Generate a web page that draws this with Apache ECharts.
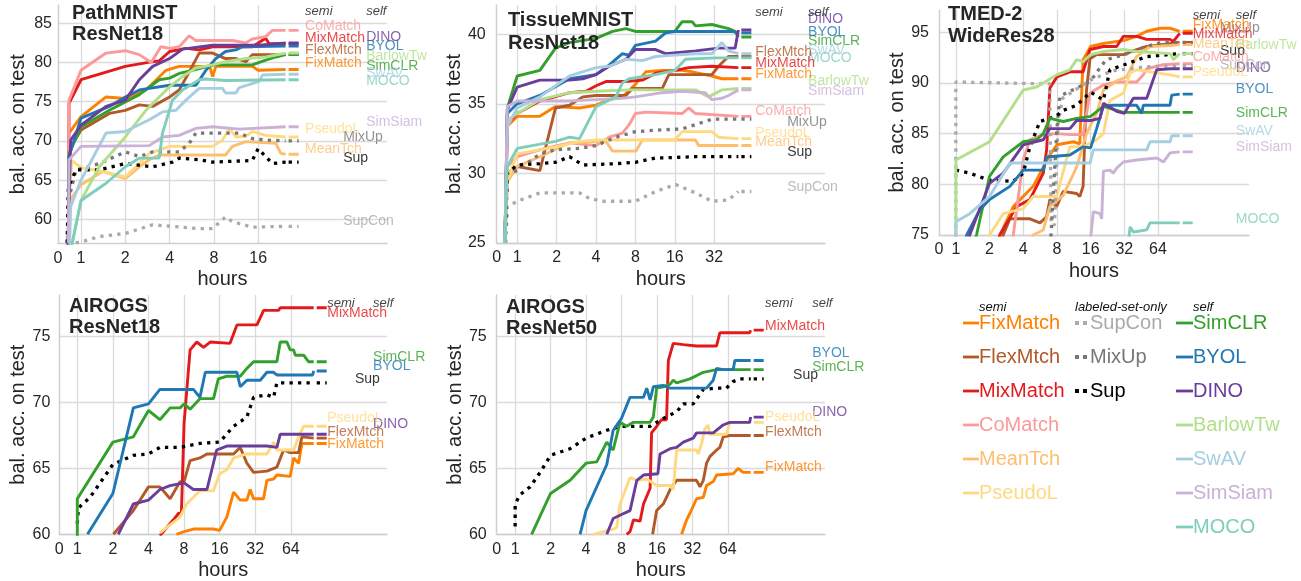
<!DOCTYPE html>
<html lang="en">
<head>
<meta charset="UTF-8">
<title>bal. acc. vs hours</title>
<script src="https://cdn.jsdelivr.net/npm/echarts@6/dist/echarts.min.js"></script>
<style>
  html, body { margin: 0; padding: 0; background: #fff; }
  #main { width: 1301px; height: 581px; }
</style>
</head>
<body>
<div id="main"></div>
<script>
// hour ticks under the panels
const HOUR_TICKS = [0, 1, 2, 4, 8, 16, 32, 64];

// ---- PathMNIST / ResNet18  [hours, bal. acc.] ----
const path_FixMatch = [[0.48,71],[1,73.1],[1.48,75.6],[2,75.4],[2.76,76.5],[3.78,79.0],[4.65,79.5],[7.5,79.5],[7.84,78.2],[8.25,79.5],[14.6,79.5],[16,79.0],[24.6,79.1]];
const path_FlexMtch = [[0.48,68.8],[1,71.4],[1.56,73.5],[2,73.9],[2.49,74.6],[3.07,74.4],[4,75.6],[4.65,76.5],[5.44,78.8],[6.36,81.2],[7.84,81.2],[9.6,80.5],[11.3,80.5],[13.2,80.1],[14.6,81.0],[24.6,81.0]];
const path_MixMatch = [[0.45,57],[0.48,74.8],[1,77.8],[2,79.5],[3.07,80.1],[3.4,80.2],[4,81.4],[5.16,81.8],[6.36,81.6],[7.84,82.0],[14.6,82.0],[18,83.1],[19,82.4],[24.6,82.4]];
const path_CoMatch = [[0.45,57],[0.48,75.2],[1,79.0],[1.48,81.2],[2,81.5],[2.49,81.0],[3.0,80.0],[3.49,82.0],[4,81.8],[4.65,82.0],[5.44,83.4],[6.04,82.8],[10.7,82.8],[13.2,82.5],[14.6,83.0],[18,83.3],[20,84.1],[24.6,84.1]];
const path_MeanTch = [[0.5,62.4],[1,64.4],[1.4,66.1],[2,65.2],[2.49,66.7],[2.91,67.6],[3.4,68.2],[9.6,68.2],[10.7,69.3],[13.2,69.9],[21.1,69.7],[22.8,68.4],[24.6,68.3]];
const path_PseudoL = [[0.48,62],[0.6,67.5],[1,66.6],[1.4,66.1],[2,65.4],[2.91,68.4],[4,69.3],[7.84,69.3],[9.16,70.1],[10.2,71.6],[11.3,70.5],[13.2,70.6],[14.6,71.2],[18,70.7],[24.6,70.5]];
const path_SupCon = [[0.4,56.9],[1,57.1],[1.33,57.8],[2,58.2],[3.07,59.3],[6.36,58.8],[7.84,58.8],[9.6,60.3],[10.7,59.7],[14.6,59.0],[24.6,59.1]];
const path_MixUp = [[0.4,57],[0.45,62.4],[0.78,66.3],[1.33,67.1],[2,68.6],[2.49,68.0],[3.07,68.6],[4.65,68.6],[5.44,69.7],[6.04,71.0],[11.9,71.0],[14.6,70.3],[18,70.1],[24.6,70.0]];
const path_Sup = [[0.4,57],[0.45,64.1],[0.78,66.3],[1.33,66.3],[2,67.1],[3.07,66.7],[4.19,67.3],[4.65,67.8],[6.36,67.6],[7.84,67.3],[14.6,67.5],[16,69.0],[18,68.0],[20,67.1],[24.6,67.3]];
const path_SimCLR = [[0.45,57],[0.48,68.4],[1,71.8],[1.56,73.9],[2.49,75.9],[3.4,77.8],[4,78.0],[4.65,78.6],[5.73,79.0],[8,79.7],[14.6,79.7],[18,80.3],[21.1,80.7],[24.6,81.0]];
const path_BYOL = [[0.45,57],[0.48,68],[1,72.9],[1.56,74.4],[2,75.6],[2.49,76.5],[4,77.1],[6.04,77.1],[7.06,79.0],[8.25,80.5],[9.6,81.4],[11.3,81.6],[12.5,82.0],[24.6,82.1]];
const path_DINO = [[0.42,56],[0.55,70.1],[1,72.0],[1.48,74.4],[2,75.2],[2.49,77.8],[3.07,79.5],[4,80.5],[4.9,81.7],[7.84,82.2],[16.3,82.2],[24.6,82.5]];
const path_BarlowTw = [[0.55,56],[1,62.4],[1.33,66.7],[2,70.5],[2.76,73.9],[4,76.9],[4.9,78.2],[6.04,79.3],[7.84,79.7],[9.6,80.1],[13.2,80.5],[18,80.7],[24.6,81.2]];
const path_SwAV = [[0.5,56],[0.55,61.6],[1,65],[1.48,71],[2,71.2],[2.91,72.7],[3.58,73.7],[4.42,73.9],[5.16,75.2],[6.36,76.7],[9.16,76.7],[9.6,76.1],[11.3,76.1],[11.9,76.8],[16.3,77.6],[17.1,78.4],[24.6,78.5]];
const path_SimSiam = [[0.45,57],[0.48,67.6],[1,69.3],[2.91,69.4],[3.58,70.5],[4.65,70.7],[6.04,71.6],[7.84,71.8],[11.9,71.5],[24.6,71.8]];
const path_MOCO = [[0.55,56],[1,62.4],[1.48,64.6],[2,66.7],[2.49,67.8],[3.4,67.8],[3.58,71],[4.19,75.2],[4.9,76.5],[6.36,77.8],[7.06,77.9],[9.6,77.7],[24.6,77.8]];

// ---- TissueMNIST / ResNet18 ----
const tis_FixMatch = [[0.4,25],[0.52,33.4],[1,34.1],[1.49,34.1],[1.96,34.8],[2.99,34.7],[4,34.9],[5.05,35.3],[6.37,35.5],[8,36.4],[9.6,37.3],[12.8,37.4],[18.2,37.4],[21.7,37.3],[30.7,37.0],[36.6,36.8],[48.9,36.8]];
const tis_FlexMtch = [[0.4,25],[0.52,30.0],[1,30.5],[1.49,30.2],[1.96,34.7],[2.51,34.9],[3.17,35.5],[4,35.6],[6.76,35.6],[7.59,36.1],[12.8,36.1],[14.4,37.1],[30.7,37.1],[34.5,37.7],[41.1,38.4],[48.9,38.4]];
const tis_MixMatch = [[0.4,25],[0.52,33.6],[1,34.3],[1.49,35.2],[2.51,35.8],[3.36,35.9],[4,36.3],[4.76,36.6],[6.76,36.6],[9.04,36.7],[11.4,37.2],[16.2,37.4],[20.4,37.6],[30.7,37.7],[48.9,37.6]];
const tis_CoMatch = [[0.4,25],[0.52,30.5],[1,31.2],[1.49,31.7],[2.51,32.2],[4,32.0],[5.05,32.6],[6.37,32.9],[7.16,33.5],[8,34.3],[9.6,34.4],[18.2,34.3],[20.4,34.7],[23,34.3],[48.9,34.1]];
const tis_MeanTch = [[0.4,25],[0.52,29.4],[1,30.5],[1.49,31.2],[2.51,32.2],[4.76,32.3],[5.35,31.6],[8.05,31.6],[9.04,32.4],[23,32.4],[24.3,32.0],[48.9,32.0]];
const tis_PseudoL = [[0.4,25],[0.52,29.5],[1,31.4],[1.96,31.9],[2.99,32.3],[4,32.4],[16,32.4],[18.2,33.0],[30.7,33.0],[34.5,32.6],[48.9,32.5]];
const tis_SupCon = [[0.45,25],[0.52,27.6],[1,28.0],[1.49,28.6],[2.99,28.6],[3.56,28.2],[4.49,28.0],[8,28.0],[11.4,28.7],[16.2,29.2],[23,28.6],[30.7,28.0],[41.1,28.1],[48.9,28.7]];
const tis_MixUp = [[0.4,25],[0.52,30],[1,30.2],[1.49,31.4],[1.96,31.7],[2.99,31.8],[4,32.0],[5.67,32.6],[8,33.0],[11.4,33.1],[18.2,33.2],[23,33.5],[30.7,33.9],[48.9,33.9]];
const tis_Sup = [[0.4,25],[0.52,30],[1,30.6],[1.49,30.7],[1.96,30.8],[2.51,31.2],[3.17,30.6],[5.67,30.7],[8,30.8],[11.4,31.1],[23,31.2],[48.9,31.2]];
const tis_SimCLR = [[0.4,25],[0.52,34.7],[1,37.0],[1.49,37.4],[1.96,39.0],[2.51,39.4],[4,39.7],[5.35,40.2],[6.76,40.4],[8,40.2],[16,40.2],[18.2,40.9],[21.7,40.9],[23,40.6],[30.7,40.7],[41.1,40.4],[46.2,40.2],[48.9,39.8]];
const tis_BYOL = [[0.4,25],[0.52,34.3],[1,35.0],[1.49,35.6],[2.51,36.8],[4,37.1],[5.05,37.8],[6.37,38.6],[7.16,38.5],[8,39.2],[11.4,39.5],[13.6,40.1],[16,40.2],[43.6,40.2],[48.9,40.1]];
const tis_DINO = [[0.4,25],[0.52,34.6],[1,36.2],[1.49,36.7],[2.51,36.7],[3.17,36.8],[4,37.1],[5.05,37.7],[6.76,38.2],[8,38.9],[11.4,38.9],[13.6,38.6],[23,38.8],[34.5,39.0],[46.2,39.0],[48.9,40.3]];
const tis_BarlowTw = [[0.4,25],[0.52,33.8],[1,34.3],[1.49,35.3],[2.51,35.8],[4,35.9],[7.16,36.0],[23,36.0],[29,35.5],[36.6,36.0],[48.9,36.1]];
const tis_SwAV = [[0.4,25],[0.52,33.4],[1,34.7],[1.49,35.5],[2.51,37.0],[4,37.6],[5.05,37.7],[6.76,38.2],[9.04,38.1],[11.4,38.4],[16,38.5],[23,38.6],[30.7,38.6],[36.6,39.4],[41.1,38.8],[48.9,38.6]];
const tis_SimSiam = [[0.4,25],[0.52,34.8],[1,35.2],[2.51,35.2],[4,35.3],[6.37,35.4],[8,35.5],[12.8,35.8],[18.2,35.9],[27.3,35.8],[30.7,35.3],[36.6,35.4],[41.1,35.6],[48.9,36.0]];
const tis_MOCO = [[0.4,25],[0.52,30.5],[1,31.8],[1.96,32.3],[2.51,32.6],[2.99,32.5],[4,34.8],[5.67,35.5],[6.37,36.5],[7.16,36.8],[11.4,37.1],[16,37.4],[19.3,38.2],[32.6,38.3],[48.9,38.3]];

// ---- TMED-2 / WideRes28 ----
const tmed_FixMatch = [[2.3,74],[2.47,75],[3.26,77.8],[4.91,79.8],[6.04,81.7],[6.92,82.9],[8,83.9],[11.2,84.2],[12.8,84.0],[13.3,89],[13.7,92.3],[16,93.6],[20.8,93.9],[32,94.2],[41.2,94.6],[50.7,95.1],[66.7,95.4],[82,95.4],[100,95.1]];
const tmed_FlexMtch = [[2.5,74],[2.65,75],[3.04,76.6],[4.59,76.6],[5.64,76.2],[6.47,76.8],[6.92,78.5],[7.94,77.8],[9.11,79.3],[12,79.1],[12.8,78.8],[13.7,79.8],[14.7,89.3],[15.8,92.4],[18.1,92.8],[31.4,92.8],[41.2,93.3],[50.7,93.6],[100,94.0]];
const tmed_MixMatch = [[2.3,74],[2.47,75],[3.49,77.8],[4.59,78.5],[6.04,81.1],[6.47,83.4],[6.92,89.5],[8,90.6],[10.45,91.1],[13.7,91.1],[15.8,93.3],[20.8,93.6],[27.3,93.6],[31.4,94.6],[41.2,94.6],[50.7,94.3],[82,94.3],[87.7,94.1],[100,94.9]];
const tmed_CoMatch = [[3.2,74],[3.26,75],[4,82.4],[4.59,84.4],[6.04,84.9],[7.94,85.0],[10.45,84.9],[13.7,84.9],[15.8,89.0],[20.8,89.8],[27.3,90.1],[41.2,90.1],[47.3,90.8],[50.7,91.4],[71.4,91.8],[100,91.9]];
const tmed_MeanTch = [[4.7,74],[4.91,75],[6.04,75.5],[6.92,77.8],[9.11,78.9],[12,81.7],[14.7,85.0],[18.1,87.0],[20.8,89.3],[27.3,90.2],[33.6,90.6],[41.2,92.6],[54.3,93.6],[82,93.7],[100,93.8]];
const tmed_PseudoL = [[1.9,74],[2,75],[2.65,77.1],[4,77.6],[4.91,78.8],[7.94,78.8],[10.45,83.7],[13.7,83.7],[18.1,84.4],[20.8,85.0],[23.8,88.3],[31.4,89.0],[36,91.0],[41.2,91.3],[62.3,91.0],[82,90.8],[100,90.6]];
const tmed_SupCon = [[1,74],[1,90.1],[6.9,89.9],[7.1,76],[7.6,76],[8.2,86],[9,88.5],[16,90.3],[25,91.2],[50,91.6],[100,91.7]];
const tmed_MixUp = [[7,74],[7.5,80],[8,85.5],[8.5,88.7],[12,89.5],[16,90.2],[18,91],[22,92.3],[32,92.8],[50,93.6],[70,94.0],[100,94.0]];
const tmed_Sup = [[1,81.4],[1.33,81.1],[2,80.4],[3.26,80.3],[4,81.1],[4.59,83.7],[5.64,86.2],[6.92,86.5],[8,86.8],[9.11,87.3],[12,87.8],[16,89.1],[20.8,88.3],[23.8,91.3],[32,91.8],[50.7,92.6],[100,92.9]];
const tmed_SimCLR = [[1.45,74],[1.53,75],[2,80.8],[2.65,82.7],[4,84.2],[5.26,84.4],[6.04,85.0],[6.92,86.5],[9.11,86.2],[12,86.5],[16,86.7],[20.8,87.7],[31.4,87.1],[100,87.1]];
const tmed_BYOL = [[1.2,74],[1.25,75],[1.64,77.5],[2,78.5],[3.04,79.8],[4,81.4],[6.04,81.4],[6.47,82.7],[10.45,82.9],[13.7,83.7],[16,83.6],[18.1,85.5],[20.8,87.7],[25.5,87.8],[41.2,87.8],[45.7,87.0],[47.3,87.8],[82,87.8],[84.8,88.8],[100,88.9]];
const tmed_DINO = [[1.28,74],[1.33,75],[2,80.1],[2.65,81.1],[4,83.9],[6.04,84.4],[6.92,85.5],[10.45,85.5],[12,86.3],[16,86.3],[19.4,86.5],[20.8,88.0],[27.3,87.2],[32,87.0],[38.5,88.5],[50.7,88.5],[62.3,91.3],[82,91.4],[100,91.4]];
const tmed_BarlowTw = [[1,74],[1,82.4],[2,84.2],[4,89.3],[5.26,89.6],[7.94,90.8],[10.45,91.3],[12,92.3],[13.7,92.1],[16,92.8],[20.8,93.1],[31.4,93.3],[41.2,93.1],[82,92.9],[87.7,92.3],[100,92.9]];
const tmed_SwAV = [[1,74],[1,76.3],[1.33,77.1],[2,78.8],[3.04,82.1],[15.8,82.1],[16.9,83.4],[50.7,83.4],[54.3,84.2],[82,84.2],[84.8,84.8],[100,84.8]];
const tmed_SimSiam = [[15.8,74],[16.9,77.3],[19.4,77.1],[20.1,76.6],[20.8,81.3],[23.8,81.4],[25.5,81.1],[27.3,81.6],[31.4,82.2],[41.2,82.4],[62.3,82.6],[71.4,82.2],[82,83.1],[100,83.2]];
const tmed_MOCO = [[34.7,74],[36,75.8],[38.5,75.3],[50.7,75.5],[54.3,76.2],[100,76.2]];

// ---- AIROGS / ResNet18 ----
const a18_FixMatch = [[6.9,60],[8,60.2],[9.6,60.4],[14.2,60.4],[16,60.3],[18.4,61.3],[21,63.2],[23.9,62.6],[27.2,62.6],[29,63.4],[31,62.7],[37.6,62.7],[40.2,64.1],[45.8,64.2],[48.8,64.5],[63.3,64.4],[67.6,65.8],[74.5,65.4],[79.5,66.9],[100,66.9]];
const a18_FlexMtch = [[2.02,60],[2.98,61.8],[4,63.6],[5,63.6],[6.1,62.7],[7.4,64.0],[8,64.0],[9,65.6],[10.9,65.8],[12.5,66.1],[21,66.1],[23.9,66.6],[27.2,65.4],[31,64.7],[40.2,64.8],[48.8,65.1],[55.6,66.4],[63.3,66.2],[74.5,66.2],[79.5,67.4],[100,67.3]];
const a18_MixMatch = [[5,59.9],[6.5,61.1],[7.2,61.6],[7.6,61.6],[8,68.4],[9,74.0],[10.25,74.6],[11.7,74.2],[13.3,74.6],[19.6,74.5],[22.4,75.9],[33.1,75.9],[37.7,77.0],[50.4,77.0],[52.1,77.2],[100,77.2]];
const a18_PseudoL = [[5,60.1],[7.4,61.3],[8.4,62.3],[10.9,63.3],[14.2,63.3],[16,64.6],[18.4,64.9],[21,65.8],[27.2,66.1],[40.2,66.1],[45.8,67.0],[48.8,66.4],[67.6,66.4],[77,67.7],[82.2,68.2],[100,68.2]];
const a18_Sup = [[1,60.8],[1.02,62],[1.28,62.8],[2,65.3],[2.98,66.0],[4,66.1],[5,66.6],[7.4,66.6],[10.9,66.9],[16,67.0],[21,68.2],[27.2,68.9],[31,70.4],[40.2,70.6],[45.8,70.4],[48.8,71.5],[100,71.5]];
const a18_SimCLR = [[1,59.8],[1,62.7],[2,67.0],[2.98,67.4],[4,69.4],[5,68.7],[6.1,69.6],[7.4,69.6],[8,69.9],[9,69.5],[10.9,70.3],[14.2,70.3],[15.6,71.8],[18.4,72.0],[23.9,72.0],[27.2,72.6],[31,73.1],[48.8,73.1],[52.1,74.6],[59.3,74.6],[63.3,74.0],[67.6,74.0],[69.8,73.6],[82.2,73.6],[90.6,73.1],[100,73.1]];
const a18_BYOL = [[1.22,60],[2,63.1],[2.98,69.6],[4,69.9],[5,71.0],[9.6,71.0],[10.9,70.4],[12.1,72.3],[22.4,72.3],[23.9,71.2],[27.2,71.7],[35.3,71.7],[40.2,72.3],[45.8,72.3],[48.8,72.1],[98,72.1],[100,72.4]];
const a18_DINO = [[2.22,60],[2.98,62.3],[4,62.6],[5,63.4],[6.1,63.7],[8,63.9],[9.6,63.4],[12.5,63.4],[15.1,66.4],[18.4,66.7],[40.2,66.7],[48.8,66.6],[52.1,67.6],[100,67.6]];

// ---- AIROGS / ResNet50 ----
const a50_FixMatch = [[25.9,60],[28.6,61.1],[30.5,61.6],[34.7,62.7],[39.6,62.8],[42.2,63.7],[48.1,64.0],[51.3,64.5],[71,64.6],[78.3,65.0],[86.3,64.7],[100,64.7]];
const a50_FlexMtch = [[14.7,60],[15.9,61.8],[18.1,62.3],[20.7,63.4],[23.5,64.1],[34.7,64.1],[37.1,63.6],[39.6,64.1],[42.2,65.4],[45,65.9],[51.3,66.4],[54.7,66.6],[58.4,67.4],[66.5,67.5],[100,67.5]];
const a50_MixMatch = [[8.85,60],[9.45,60.2],[10.1,61.1],[11.5,61.0],[12.3,62.3],[14,63.5],[14.4,67.7],[15.9,68.2],[17.5,68.7],[19.3,68.7],[20,73.2],[22,74.5],[26.8,74.4],[34.7,74.3],[51.3,74.3],[54.7,75.3],[98,75.3],[100,75.5]];
const a50_PseudoL = [[4.62,60],[6.8,60.4],[7.28,60.5],[7.77,62.3],[9.45,64.3],[10.8,64.1],[13.1,64.2],[15.9,63.7],[20.7,63.7],[22,63.4],[23.5,66.4],[34.7,66.4],[35.9,66.1],[38.3,66.9],[40.8,68.0],[43.6,68.3],[45,67.6],[62.3,67.6],[66.5,68.5],[100,68.5]];
const a50_Sup = [[1,60.6],[1,62.3],[1.1,63.0],[1.34,63.6],[1.63,64.7],[2,66.0],[2.93,66.5],[4,67.3],[6,67.9],[8,68.2],[14,68.2],[18.1,68.8],[23.5,69.3],[26.8,69.9],[32.5,69.9],[39.6,71.0],[51.3,71.1],[62.3,71.1],[71,71.6],[80.9,71.8],[100,71.8]];
const a50_SimCLR = [[1.38,60],[2,63.1],[2.93,64.1],[4,65.4],[4.93,65.5],[6,67.0],[6.8,66.4],[7.77,68.5],[8.85,68.2],[10.1,68.5],[14,68.5],[14.9,68.9],[15.9,71.1],[18.1,71.2],[20.7,71.4],[22,71.7],[23.5,71.5],[30.5,71.8],[39.6,72.3],[51.3,72.5],[100,72.5]];
const a50_BYOL = [[3.56,60],[4,61.8],[6,65.3],[6.8,67.9],[8,68.8],[9.45,70.4],[12.3,70.4],[13.1,71.1],[14,70.2],[14.9,71.2],[18.1,71.3],[20.7,71.1],[42.2,71.1],[48.1,71.7],[51.3,72.6],[58.4,72.5],[71,72.5],[73.4,73.2],[100,73.2]];
const a50_DINO = [[6,60],[6.8,61.2],[8,61.5],[9.45,61.8],[10.8,64.1],[12.3,64.5],[16.3,64.6],[17,66.1],[20.7,66.5],[23.5,66.6],[26.8,67.0],[32.5,67.3],[34.7,67.7],[48.1,67.7],[58.4,68.3],[66.5,68.5],[98,68.5],[100,68.9]];

// method groups and colours
const SEMI = ['FixMatch', 'FlexMtch', 'MixMatch', 'CoMatch', 'MeanTch', 'PseudoL'];
const LABELED = ['SupCon', 'MixUp', 'Sup'];
const SELF = ['SimCLR', 'BYOL', 'DINO', 'BarlowTw', 'SwAV', 'SimSiam', 'MOCO'];
const COLORS = {
  FixMatch: '#ff7f00', FlexMtch: '#b15928', MixMatch: '#e31a1c', CoMatch: '#fb9a99',
  MeanTch: '#fdbf6f', PseudoL: '#ffd97f',
  SupCon: '#aaaaaa', MixUp: '#777777', Sup: '#000000',
  SimCLR: '#33a02c', BYOL: '#1f78b4', DINO: '#6a3d9a', BarlowTw: '#b2df8a',
  SwAV: '#a6cee3', SimSiam: '#cab2d6', MOCO: '#7fcdbb'
};
const GROUP = {};
SEMI.forEach(n => GROUP[n] = 'semi');
LABELED.forEach(n => GROUP[n] = 'labeled');
SELF.forEach(n => GROUP[n] = 'self');

const FONT = '"Liberation Sans", Arial, Helvetica, sans-serif';
const INK = '#262626';
const GRID_COLOR = '#dadada';
const AXIS_COLOR = '#cfcfcf';

const panels = [
  {
    title: 'PathMNIST\nResNet18', titleAt: [72, 3], titleLH: 21,
    box: [58, 5, 329, 238.3], lin: 0.52, xMax: 7.43, yMin: 56.94, yMax: 87.33,
    nx: 6, yTicks: [60, 65, 70, 75, 80, 85], yMargin: 6,
    cols: {semi: 5.58, labeled: 6.44, self: 6.96}, headY: 86.5,
    curves: {FixMatch: path_FixMatch, FlexMtch: path_FlexMtch, MixMatch: path_MixMatch, CoMatch: path_CoMatch,
      MeanTch: path_MeanTch, PseudoL: path_PseudoL, SupCon: path_SupCon, MixUp: path_MixUp, Sup: path_Sup,
      SimCLR: path_SimCLR, BYOL: path_BYOL, DINO: path_DINO, BarlowTw: path_BarlowTw, SwAV: path_SwAV,
      SimSiam: path_SimSiam, MOCO: path_MOCO},
    labelY: {FixMatch: 79.9, FlexMtch: 81.59, MixMatch: 83.09, CoMatch: 84.66, MeanTch: 68.97, PseudoL: 71.52,
      SupCon: 59.78, MixUp: 70.54, Sup: 67.78, SimCLR: 79.55, BYOL: 82.1, DINO: 83.21, BarlowTw: 80.83,
      SwAV: 78.7, SimSiam: 72.37, MOCO: 77.64}
  },
  {
    title: 'TissueMNIST\nResNet18', titleAt: [508, 8.5], titleLH: 23,
    box: [496.7, 5, 328.3, 238], lin: 0.52, xMax: 8.33, yMin: 25, yMax: 42.1,
    nx: 7, yTicks: [25, 30, 35, 40], yMargin: 11,
    cols: {semi: 6.56, labeled: 7.37, self: 7.9}, headY: 41.6,
    curves: {FixMatch: tis_FixMatch, FlexMtch: tis_FlexMtch, MixMatch: tis_MixMatch, CoMatch: tis_CoMatch,
      MeanTch: tis_MeanTch, PseudoL: tis_PseudoL, SupCon: tis_SupCon, MixUp: tis_MixUp, Sup: tis_Sup,
      SimCLR: tis_SimCLR, BYOL: tis_BYOL, DINO: tis_DINO, BarlowTw: tis_BarlowTw, SwAV: tis_SwAV,
      SimSiam: tis_SimSiam, MOCO: tis_MOCO},
    labelY: {FixMatch: 37.15, FlexMtch: 38.73, MixMatch: 37.94, CoMatch: 34.49, MeanTch: 32.26, PseudoL: 32.9,
      SupCon: 29.02, MixUp: 33.7, Sup: 31.54, SimCLR: 39.52, BYOL: 40.17, DINO: 41.1, BarlowTw: 36.64,
      SwAV: 38.87, SimSiam: 35.92, MOCO: 38.3}
  },
  {
    title: 'TMED-2\nWideRes28', titleAt: [948, 4], titleLH: 21.7,
    box: [939, 10, 310, 225], lin: 0.5, xMax: 9.2, yMin: 75, yMax: 97.2,
    nx: 8, yTicks: [75, 80, 85, 90, 95], yMargin: 10,
    cols: {semi: 7.53, labeled: 8.34, self: 8.81}, headY: 96.7,
    curves: {FixMatch: tmed_FixMatch, FlexMtch: tmed_FlexMtch, MixMatch: tmed_MixMatch, CoMatch: tmed_CoMatch,
      MeanTch: tmed_MeanTch, PseudoL: tmed_PseudoL, SupCon: tmed_SupCon, MixUp: tmed_MixUp, Sup: tmed_Sup,
      SimCLR: tmed_SimCLR, BYOL: tmed_BYOL, DINO: tmed_DINO, BarlowTw: tmed_BarlowTw, SwAV: tmed_SwAV,
      SimSiam: tmed_SimSiam, MOCO: tmed_MOCO},
    labelY: {FixMatch: 95.72, MixMatch: 94.83, CoMatch: 92.56, MeanTch: 93.85, PseudoL: 91.08,
      SupCon: 91.77, MixUp: 95.42, Sup: 93.15, SimCLR: 87.03, BYOL: 89.4, DINO: 91.48, BarlowTw: 93.75,
      SwAV: 85.26, SimSiam: 83.68, MOCO: 76.57}
  },
  {
    title: 'AIROGS\nResNet18', titleAt: [69, 295.5], titleLH: 21,
    box: [59.3, 295, 327.7, 239.3], lin: 0.506, xMax: 9.21, yMin: 60, yMax: 78.17,
    nx: 8, yTicks: [60, 65, 70, 75], yMargin: 9,
    cols: {semi: 7.53, labeled: 8.31, self: 8.82}, headY: 77.5,
    curves: {FixMatch: a18_FixMatch, FlexMtch: a18_FlexMtch, MixMatch: a18_MixMatch, PseudoL: a18_PseudoL,
      Sup: a18_Sup, SimCLR: a18_SimCLR, BYOL: a18_BYOL, DINO: a18_DINO},
    labelY: {MixMatch: 76.8, SimCLR: 73.47, BYOL: 72.78, Sup: 71.79, PseudoL: 68.83, DINO: 68.33,
      FlexMtch: 67.72, FixMatch: 66.85}
  },
  {
    title: 'AIROGS\nResNet50', titleAt: [506, 296.5], titleLH: 21,
    box: [496.7, 295, 328.3, 239.3], lin: 0.52, xMax: 9.26, yMin: 60, yMax: 78.17,
    nx: 8, yTicks: [60, 65, 70, 75], yMargin: 10,
    cols: {semi: 7.57, labeled: 8.36, self: 8.9}, headY: 77.5,
    curves: {FixMatch: a50_FixMatch, FlexMtch: a50_FlexMtch, MixMatch: a50_MixMatch, PseudoL: a50_PseudoL,
      Sup: a50_Sup, SimCLR: a50_SimCLR, BYOL: a50_BYOL, DINO: a50_DINO},
    labelY: {MixMatch: 75.81, BYOL: 73.76, SimCLR: 72.7, Sup: 72.09, DINO: 69.28, PseudoL: 68.9,
      FlexMtch: 67.76, FixMatch: 65.1}
  }
];

// symlog-like hours axis: linear below 1h, log2 above
function toAxis(h, lin) { return h < 1 ? h * lin : lin + Math.log2(h); }

function lineStyleOf(name) {
  if (GROUP[name] === 'labeled') {
    return {color: COLORS[name], width: 3.3, type: [3.3, 5.2], cap: 'butt'};
  }
  return {color: COLORS[name], width: 2.9};
}

const grids = [], xAxes = [], yAxes = [], series = [], graphic = [];

panels.forEach((p, i) => {
  const [left, top, width, height] = p.box;
  const ppu = width / p.xMax;
  grids.push({left, top, width, height, containLabel: false, outerBoundsMode: 'none'});

  const xt = HOUR_TICKS.slice(0, p.nx).map(h => toAxis(h, p.lin));
  xAxes.push({
    type: 'value', gridIndex: i, min: 0, max: p.xMax,
    name: 'hours', nameLocation: 'middle', nameGap: 26,
    nameTextStyle: {fontSize: 20, color: INK, fontFamily: FONT},
    axisLine: {show: true, lineStyle: {color: AXIS_COLOR, width: 1.3}},
    axisTick: {show: false, customValues: xt},
    axisLabel: {
      customValues: xt, fontSize: 16, color: INK, fontFamily: FONT, margin: 7,
      formatter: v => (v < p.lin * 0.5 ? '0' : String(Math.round(Math.pow(2, v - p.lin))))
    },
    splitLine: {show: true, lineStyle: {color: GRID_COLOR, width: 1.3}}
  });
  yAxes.push({
    type: 'value', gridIndex: i, min: p.yMin, max: p.yMax,
    name: 'bal. acc. on test', nameLocation: 'middle', nameGap: 30,
    nameTextStyle: {fontSize: 20, color: INK, fontFamily: FONT},
    axisLine: {show: true, lineStyle: {color: AXIS_COLOR, width: 1.3}},
    axisTick: {show: false, customValues: p.yTicks},
    axisLabel: {customValues: p.yTicks, fontSize: 16, color: INK, fontFamily: FONT, margin: p.yMargin},
    splitLine: {show: true, lineStyle: {color: GRID_COLOR, width: 1.3}}
  });

  // curves and the short end marks
  [...SEMI, ...LABELED, ...SELF].forEach(name => {
    const pts = p.curves[name];
    if (!pts) return;
    const style = lineStyleOf(name);
    series.push({
      type: 'line', name, xAxisIndex: i, yAxisIndex: i,
      data: pts.map(([h, v]) => [toAxis(h, p.lin), v]),
      showSymbol: false, symbol: 'none', lineStyle: style,
      itemStyle: {color: COLORS[name]}, silent: true, animation: false, z: 2
    });
    const last = pts[pts.length - 1];
    const xs = toAxis(last[0], p.lin) + 3 / ppu;
    series.push({
      type: 'line', xAxisIndex: i, yAxisIndex: i,
      data: [[xs, last[1]], [xs + 10 / ppu, last[1]]],
      showSymbol: false, symbol: 'none', lineStyle: style,
      silent: true, animation: false, z: 2
    });
  });

  // right-hand name labels + column headers
  const labelData = [];
  [...SELF, ...LABELED, ...SEMI].forEach(name => {
    if (p.labelY[name] === undefined) return;
    labelData.push({name, value: [p.cols[GROUP[name]], p.labelY[name]], label: {color: COLORS[name]}});
  });
  ['semi', 'self'].forEach(h => {
    labelData.push({name: h, value: [p.cols[h], p.headY],
      label: {color: '#111', fontStyle: 'italic', fontSize: 13}});
  });
  series.push({
    type: 'scatter', xAxisIndex: i, yAxisIndex: i, data: labelData,
    symbolSize: 0, itemStyle: {color: 'transparent'}, silent: true, animation: false, z: 5,
    label: {show: true, formatter: '{b}', position: [0, 0], align: 'left', verticalAlign: 'middle',
      fontSize: 14, fontFamily: FONT}
  });

  graphic.push({
    type: 'text', x: p.titleAt[0], y: p.titleAt[1], silent: true, z: 100,
    style: {text: p.title, font: 'bold 20px ' + FONT, fill: INK, lineHeight: p.titleLH, verticalAlign: 'top'}
  });
});

// legend block (bottom right)
const LEG_ROWS = [323, 357, 391, 425, 459, 493, 527];
const legCols = [
  {names: SEMI, head: 'semi', headX: 979, lineX: [963, 979], textX: 979},
  {names: LABELED, head: 'labeled-set-only', headX: 1075, lineX: [1075, 1090], textX: 1090},
  {names: SELF, head: 'self', headX: 1193, lineX: [1176, 1193], textX: 1193}
];
legCols.forEach(col => {
  graphic.push({
    type: 'text', x: col.headX, y: 307, silent: true,
    style: {text: col.head, font: 'italic 13px ' + FONT, fill: '#111', verticalAlign: 'middle'}
  });
  col.names.forEach((name, r) => {
    const y = LEG_ROWS[r];
    const dotted = GROUP[name] === 'labeled';
    graphic.push({
      type: 'line', silent: true,
      shape: {x1: col.lineX[0], y1: y, x2: col.lineX[1], y2: y},
      style: {stroke: COLORS[name], lineWidth: dotted ? 4 : 2.8, lineDash: dotted ? [4, 4] : null}
    });
    graphic.push({
      type: 'text', x: col.textX, y: y, silent: true,
      style: {text: name, font: '20px ' + FONT, fill: COLORS[name], verticalAlign: 'middle'}
    });
  });
});

const chart = echarts.init(document.getElementById('main'));
chart.setOption({
  backgroundColor: '#ffffff',
  animation: false,
  grid: grids,
  xAxis: xAxes,
  yAxis: yAxes,
  series,
  graphic
});
</script>
</body>
</html>
